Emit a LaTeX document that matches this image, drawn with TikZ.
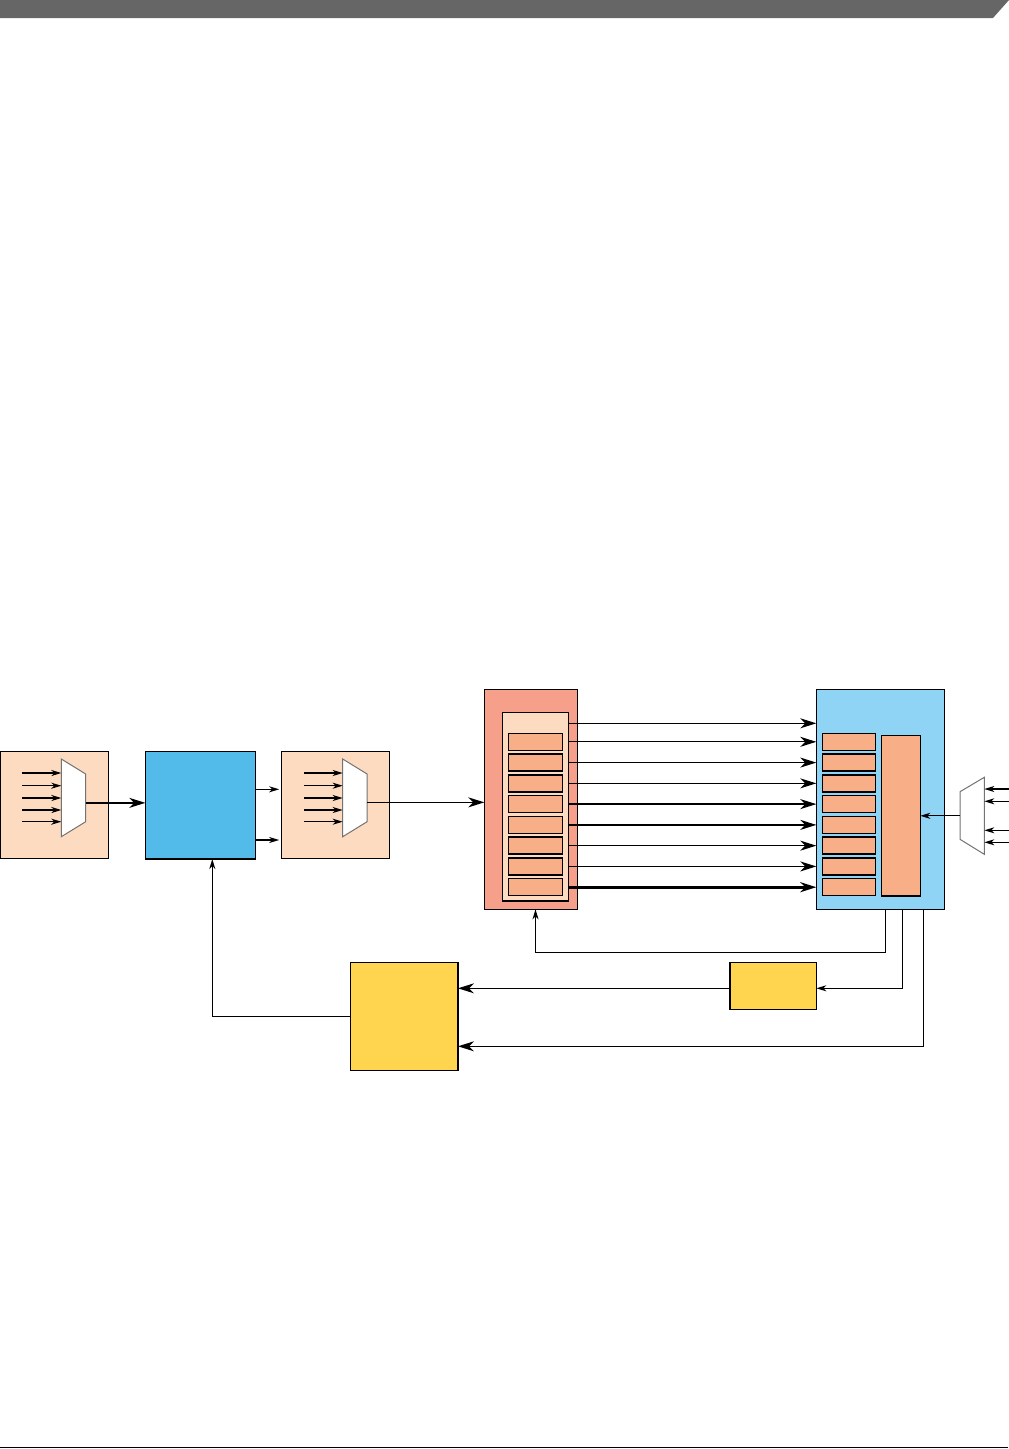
\documentclass[tikz,border=0pt]{standalone}
\usepackage{xcolor}
\usepackage{tikz}
\usetikzlibrary{arrows.meta}

\begin{document}
\begin{tikzpicture}[x=1pt, y=-1pt, line width=1.3pt,
    every node/.style={inner sep=0pt, outer sep=0pt, anchor=north west},
    blk/.style={draw, line width=1.4pt},
    bigtip/.style={-{Stealth[length=16pt, width=10pt, inset=5pt]}},
    smalltip/.style={-{Stealth[length=10pt, width=6pt, inset=3pt]}},
    muxbox/.style={minimum width=24.4pt, minimum height=77.7pt},
    muxline/.style={draw=black!55, fill=white, line width=1pt}]
      \colorlet{peachbg}{red!4!orange!22!white} \colorlet{ctrlbg}{cyan!55!blue!55!white}
      \definecolor{peachbg}{RGB}{253,219,192} \definecolor{ctrlbg}{RGB}{83,187,233}
      \definecolor{fifobg}{RGB}{246,160,140} \definecolor{slotbg}{RGB}{248,174,135}
      \definecolor{lbluebg}{RGB}{143,212,244} \definecolor{yelbg}{RGB}{255,212,79}
      \definecolor{hdrgray}{RGB}{102,102,102}
      \useasboundingbox (0,0) rectangle (1009,1449);
      % page header and footer rule
      \fill[hdrgray] (0,0) -- (1009,0) -- (993,18) -- (0,18) -- cycle;
      \draw[line width=1.3pt] (0,1447.5) -- (1008,1447.5);

      % left select block
      \node[blk, fill=peachbg, minimum width=108.7pt, minimum height=107pt] (selA) at (0,751.3) {};
      \node[muxbox] (muxA) at (61.3,759) {};
      \draw[muxline] (muxA.north west) -- ([yshift=-15pt]muxA.north east) -- ([yshift=15pt]muxA.south east) -- (muxA.south west) -- cycle;
      \foreach \dy [count=\k] in {14,26.7,39,51,62.7} {
        \coordinate (muxA in\k) at ([yshift=-\dy pt]muxA.north west);
        \draw[smalltip] ([xshift=-39.3pt]muxA in\k) -- (muxA in\k);
      }

      % control block
      \node[blk, fill=ctrlbg, minimum width=110pt, minimum height=107.7pt] (ctrl) at (145.3,751.3) {};
      \coordinate (muxAo) at ([yshift=-5pt]muxA.east);
      \draw[bigtip] (muxAo) -- (muxAo -| ctrl.west);

      % second select block
      \node[blk, fill=peachbg, minimum width=107.6pt, minimum height=107pt] (selB) at (281.7,751.3) {};
      \node[muxbox] (muxB) at (342.7,759) {};
      \draw[muxline] (muxB.north west) -- ([yshift=-15pt]muxB.north east) -- ([yshift=15pt]muxB.south east) -- (muxB.south west) -- cycle;
      \foreach \dy [count=\k] in {14,26.7,39,51,62.7} {
        \coordinate (muxB in\k) at ([yshift=-\dy pt]muxB.north west);
        \draw[smalltip] ([xshift=-38.7pt]muxB in\k) -- (muxB in\k);
      }
      \coordinate (ctrlO1) at ([yshift=-38pt]ctrl.north east);
      \coordinate (ctrlO2) at ([yshift=-88.7pt]ctrl.north east);
      \draw[smalltip, shorten >=2.5pt] (ctrlO1) -- (ctrlO1 -| selB.west);
      \draw[smalltip, shorten >=2.5pt] (ctrlO2) -- (ctrlO2 -| selB.west);

      % fifo with slots
      \node[blk, fill=fifobg, minimum width=93pt, minimum height=220pt] (fifo) at (484.3,689.3) {};
      \node[blk, fill=peachbg, minimum width=66.4pt, minimum height=188.7pt] (inner) at (502.3,712.3) {};
      \foreach \i in {1,...,8}
        \node[blk, fill=slotbg, minimum width=54pt, minimum height=17pt] (sA\i) at (508.3,{733.3+(\i-1)*20.77}) {};
      \coordinate (muxBo) at ([yshift=-4.5pt]muxB.east);
      \draw[bigtip] (muxBo) -- (muxBo -| fifo.west);

      % receiving block
      \node[blk, fill=lbluebg, minimum width=128pt, minimum height=220pt] (lblue) at (816.3,689.3) {};
      \foreach \i in {1,...,8}
        \node[blk, fill=slotbg, minimum width=53pt, minimum height=17pt] (sB\i) at (822.3,{733.3+(\i-1)*20.77}) {};
      \node[blk, fill=slotbg, minimum width=39pt, minimum height=160.7pt] (tall) at (881.3,735.3) {};

      % fifo outputs
      \coordinate (tapH) at ([yshift=-11pt]inner.north east);
      \draw[bigtip] (tapH) -- (tapH -| lblue.west);
      \foreach \i in {1,...,7}
        \draw[bigtip] (inner.east |- sA\i) -- (lblue.west |- sA\i);
      \draw[bigtip, line width=2.6pt] (inner.east |- sA8) -- (lblue.west |- sA8);

      % right mux
      \node[minimum width=24.3pt, minimum height=77pt] (muxC) at (960,777.3) {};
      \draw[muxline] (muxC.north east) -- (muxC.south east) -- ([yshift=15pt]muxC.south west) -- ([yshift=-14.4pt]muxC.north west) -- cycle;
      \foreach \dy [count=\k] in {11.7,24,53,65} {
        \coordinate (muxC in\k) at ([yshift=-\dy pt]muxC.north east);
        \draw[smalltip] ([xshift=24.7pt]muxC in\k) -- (muxC in\k);
      }
      \draw[smalltip] (muxC.west) -- (muxC.west -| tall.east);

      % yellow blocks
      \node[blk, fill=yelbg, minimum width=107.6pt, minimum height=108pt] (ybig) at (350.4,962.3) {};
      \node[blk, fill=yelbg, minimum width=86.3pt, minimum height=47pt] (ysmall) at (730,962.3) {};

      % feedback paths
      \coordinate (fbA) at ([xshift=69.4pt]lblue.south west);
      \coordinate (fbB) at ([xshift=86.4pt]lblue.south west);
      \coordinate (fbC) at ([xshift=107.2pt]lblue.south west);
      \draw[smalltip] (fbA) -- ([yshift=-43pt]fbA) -| (inner.south |- fifo.south);
      \coordinate (ysE) at ([yshift=-2.5pt]ysmall.east);
      \draw[smalltip] (fbB) |- (ysE);
      \coordinate (ysW) at ([yshift=-2.5pt]ysmall.west);
      \draw[bigtip] (ysW) -- (ysW -| ybig.east);
      \coordinate (ybE) at ([yshift=-30pt]ybig.east);
      \draw[bigtip] (fbC) |- (ybE);
      \coordinate (ctrlS) at ([xshift=12pt]ctrl.south);
      \draw[smalltip] (ybig.west) -| (ctrlS);
    \end{tikzpicture}
\end{document}
